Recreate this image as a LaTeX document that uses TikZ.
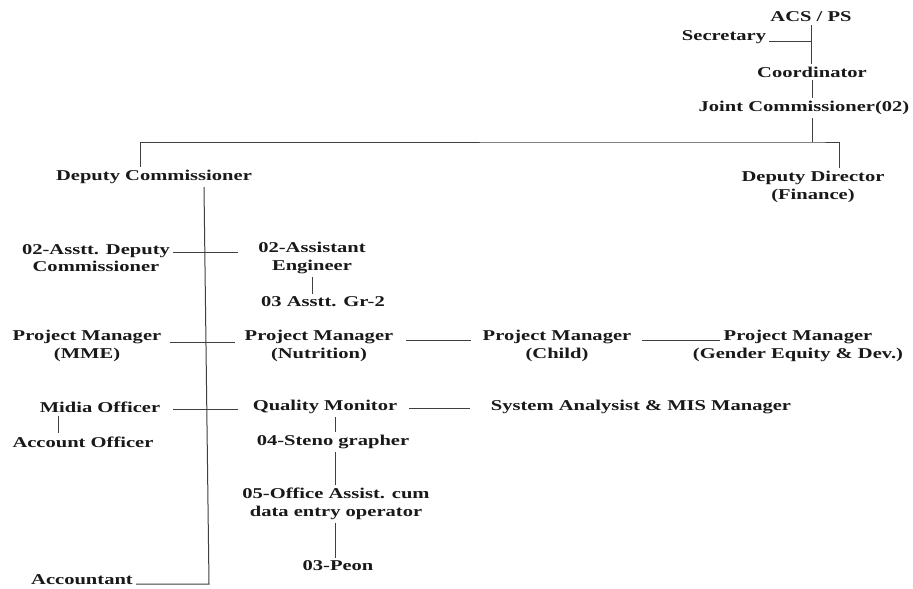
\documentclass[tikz,border=0pt]{standalone}
\usepackage{fontspec}
\setmainfont{Liberation Serif}[FakeStretch=1.37]
\begin{document}
\begin{tikzpicture}[x=1pt,y=-1pt,
  lbl/.style={inner sep=3pt,align=center,text=black!90,font=\fontsize{15}{17.5}\selectfont\bfseries},
  ln/.style={draw=black!75,line width=1pt}]
\useasboundingbox[fill=white] (0,0) rectangle (913,589);
% nodes
\node[lbl] (acs) at (811,17) {ACS / PS};
\node[lbl] (sec) at (724,37) {Secretary};
\node[lbl] (coord) at (812,72) {Coordinator};
\node[lbl] (jc) at (804,108) {Joint Commissioner(02)};
\node[lbl] (dd) at (813,187) {Deputy Director\\(Finance)};
\node[lbl] (dc) at (154,177) {Deputy Commissioner};
\node[lbl] (adc) at (96,258) {02-Asstt. Deputy\\Commissioner};
\node[lbl] (ae) at (312,258) {02-Assistant\\Engineer};
\node[lbl] (gr) at (323,302) {03 Asstt. Gr-2};
\node[lbl] (pmme) at (87,346) {Project Manager\\(MME)};
\node[lbl] (pnut) at (319,346) {Project Manager\\(Nutrition)};
\node[lbl] (pchild) at (557,346) {Project Manager\\(Child)};
\node[lbl] (pgen) at (798,346) {Project Manager\\(Gender Equity \& Dev.)};
\node[lbl] (midia) at (100,407) {Midia Officer};
\node[lbl] (qm) at (325,407) {Quality Monitor};
\node[lbl] (sys) at (641,407) {System Analysist \& MIS Manager};
\node[lbl] (acco) at (83,442) {Account Officer};
\node[lbl] (steno) at (333,442) {04-Steno grapher};
\node[lbl] (office) at (336,504) {05-Office Assist. cum\\data entry operator};
\node[lbl] (peon) at (338,566) {03-Peon};
\node[lbl] (accnt) at (82,580) {Accountant};
\coordinate (bus) at (812,142);
\coordinate (spb) at (209,584);
% connectors
\draw[ln] ([yshift=-4pt]sec.east) -- ([yshift=-4pt]sec.east -| acs.south);
\draw[ln] (acs.south) -- (acs.south |- coord.north);
\draw[ln] (coord.south) -- (coord.south |- jc.north);
\draw[ln] ([xshift=8pt]jc.south) -- (bus);
\draw[ln] ([xshift=-14pt]dc.north) |- (bus) -| ([xshift=26pt]dd.north);
\draw[ln] ([xshift=50pt]dc.south) -- (spb) -- ([yshift=-4pt]accnt.east);
\draw[ln] ([yshift=6pt]adc.east) -- ([xshift=-17pt,yshift=6pt]ae.west);
\draw[ln] (ae.south) -- (ae.south |- gr.north);
\draw[ln] ([xshift=6pt,yshift=4pt]pmme.east) -- ([xshift=-7pt,yshift=4pt]pnut.west);
\draw[ln] ([xshift=10pt,yshift=6pt]pnut.east) -- ([xshift=-9pt,yshift=6pt]pchild.west);
\draw[ln] ([xshift=8pt,yshift=6pt]pchild.east) -- ([xshift=30pt,yshift=6pt]pgen.west);
\draw[ln] ([xshift=10pt,yshift=-2pt]midia.east) -- ([xshift=-12pt,yshift=-2pt]qm.west);
\draw[ln] ([xshift=9pt,yshift=-1pt]qm.east) -- ([xshift=-18pt,yshift=-1pt]sys.west);
\draw[ln] ([xshift=-42pt]midia.south) -- ([xshift=-42pt]midia.south |- acco.north);
\draw[ln] ([xshift=10pt]qm.south) -- ([xshift=10pt]qm.south |- steno.north);
\draw[ln] ([xshift=2pt]steno.south) -- ([xshift=2pt]steno.south |- office.north);
\draw[ln] ([xshift=-1pt]office.south) -- ([xshift=-1pt]office.south |- peon.north);
\end{tikzpicture}
\end{document}
